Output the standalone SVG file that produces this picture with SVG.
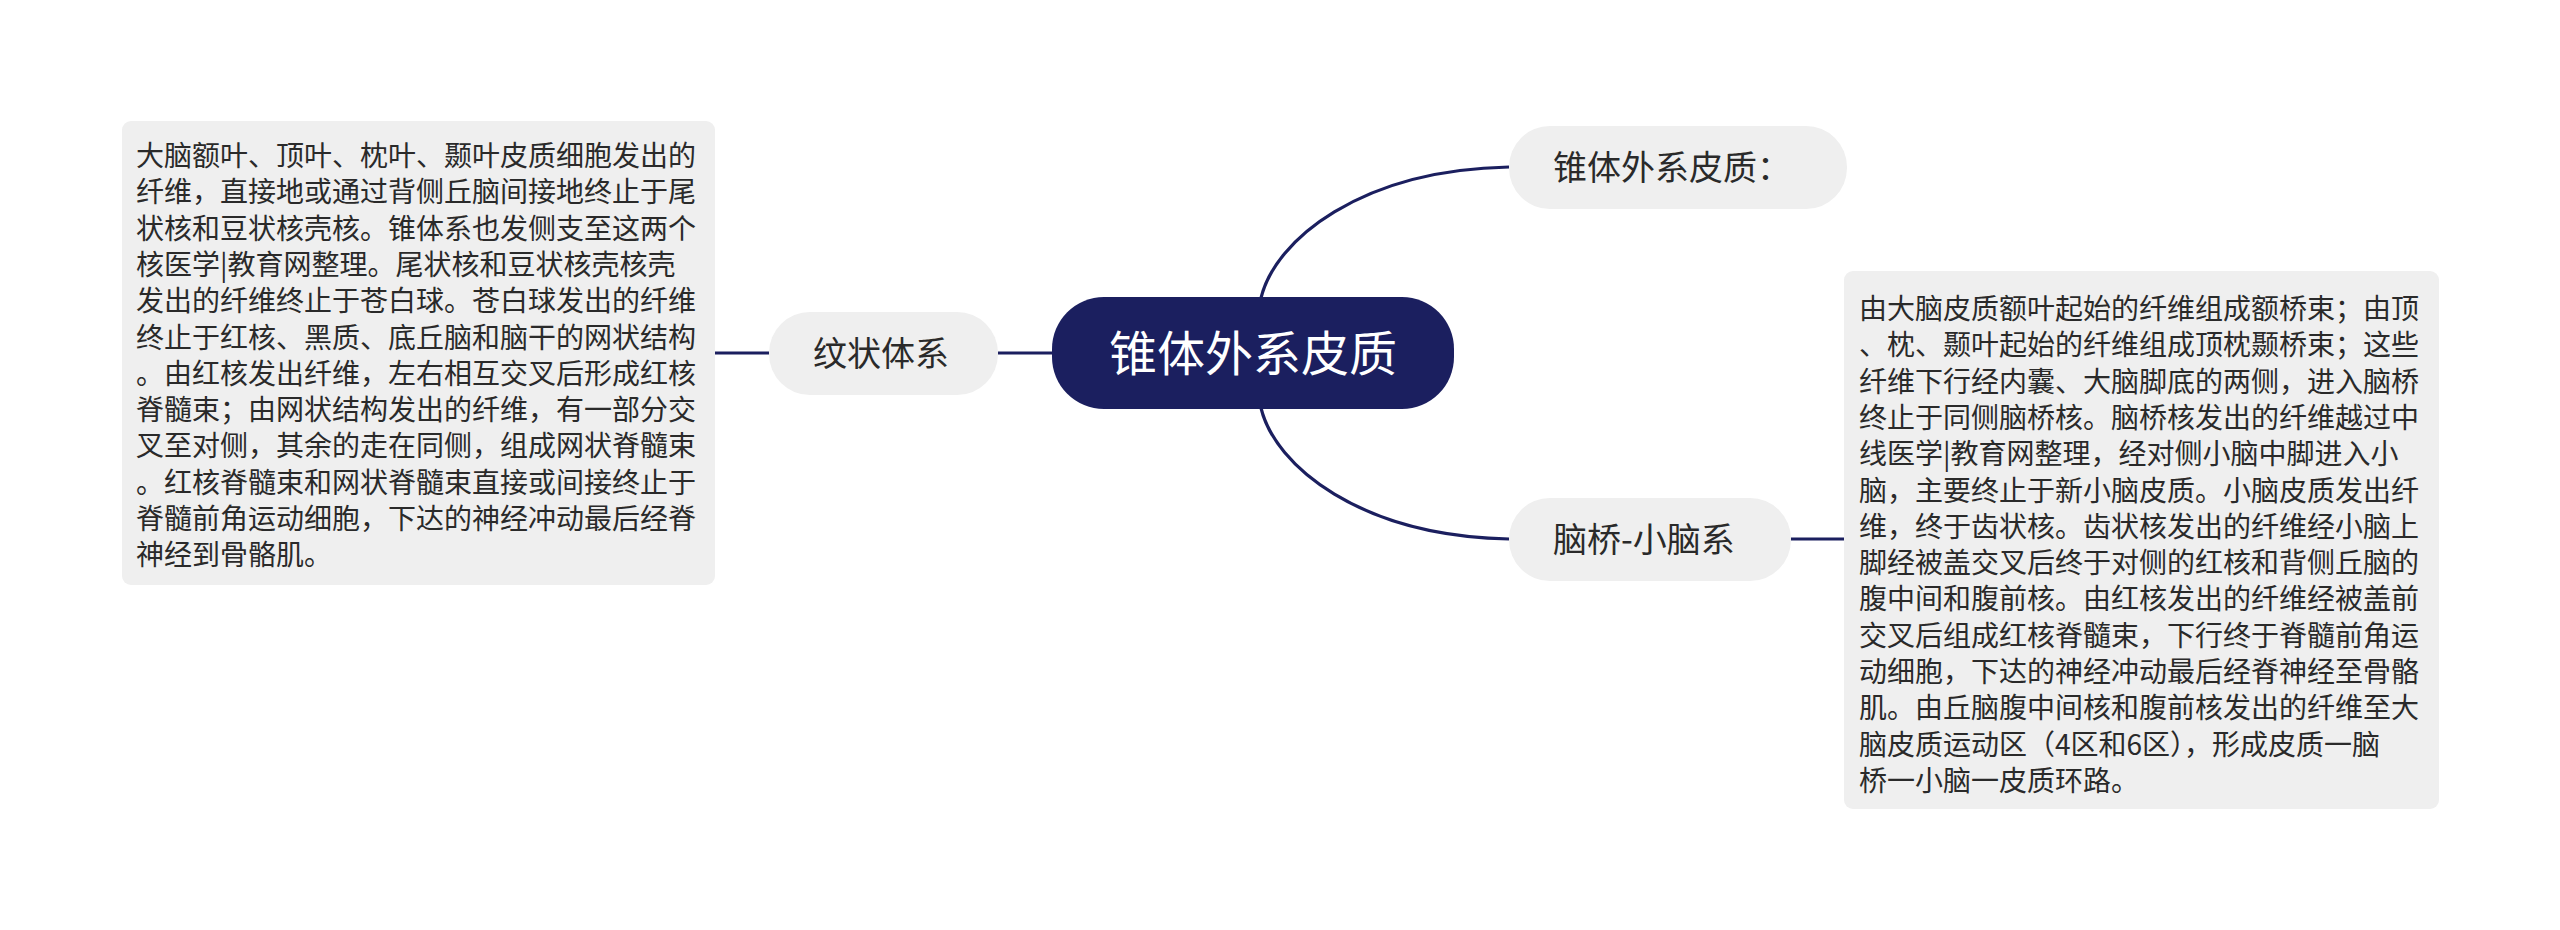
<svg xmlns="http://www.w3.org/2000/svg" width="2560" height="930" viewBox="0 0 2560 930">
<style>
.bg{fill:#ffffff}
.conn{fill:none;stroke:#1b1f5f;stroke-width:3.2;stroke-linecap:butt}
.center{fill:#1b1f5f}
.sub{fill:#efefef}
.box{fill:#efefef}
.ct{font-family:"Noto Sans CJK SC","Noto Sans",sans-serif;font-size:48px;fill:#ffffff}
.st{font-family:"Noto Sans CJK SC","Noto Sans",sans-serif;font-size:34px;fill:#2a2a2a}
.bt{font-family:"Noto Sans CJK SC","Noto Sans",sans-serif;font-size:28px;fill:#2a2a2a}
</style>
<rect class="bg" x="0" y="0" width="2560" height="930"/>
<g id="connectors">
<path class="conn" d="M1261 298 C1275 240 1360 170 1509 167"/>
<path class="conn" d="M1261 408 C1275 466 1360 536 1509 539"/>
<path class="conn" d="M1053 353 L998 353"/>
<path class="conn" d="M769 353 L715 353"/>
<path class="conn" d="M1791 539 L1845 539"/>
</g>
<g id="node-center">
<rect class="center" x="1052" y="297" width="402" height="112" rx="52"/>
<text class="ct" x="1253" y="371" text-anchor="middle">锥体外系皮质</text>
</g>
<g id="node-top">
<rect class="sub" x="1509" y="126" width="338" height="83" rx="41"/>
<text class="st" x="1553" y="180">锥体外系皮质：</text>
</g>
<g id="node-bottom">
<rect class="sub" x="1509" y="498" width="282" height="83" rx="41"/>
<text class="st" x="1553" y="552">脑桥-小脑系</text>
</g>
<g id="node-left">
<rect class="sub" x="769" y="312" width="229" height="83" rx="41"/>
<text class="st" x="813" y="366">纹状体系</text>
</g>
<g id="box-left">
<rect class="box" x="122" y="121" width="593" height="464" rx="9"/>
<text class="bt" x="136">
<tspan x="136" y="166">大脑额叶、顶叶、枕叶、颞叶皮质细胞发出的</tspan>
<tspan x="136" y="202.3">纤维，直接地或通过背侧丘脑间接地终止于尾</tspan>
<tspan x="136" y="238.6">状核和豆状核壳核。锥体系也发侧支至这两个</tspan>
<tspan x="136" y="274.9">核医学|教育网整理。尾状核和豆状核壳核壳</tspan>
<tspan x="136" y="311.2">发出的纤维终止于苍白球。苍白球发出的纤维</tspan>
<tspan x="136" y="347.5">终止于红核、黑质、底丘脑和脑干的网状结构</tspan>
<tspan x="136" y="383.8">。由红核发出纤维，左右相互交叉后形成红核</tspan>
<tspan x="136" y="420.1">脊髓束；由网状结构发出的纤维，有一部分交</tspan>
<tspan x="136" y="456.4">叉至对侧，其余的走在同侧，组成网状脊髓束</tspan>
<tspan x="136" y="492.7">。红核脊髓束和网状脊髓束直接或间接终止于</tspan>
<tspan x="136" y="529">脊髓前角运动细胞，下达的神经冲动最后经脊</tspan>
<tspan x="136" y="565.3">神经到骨骼肌。</tspan>
</text>
</g>
<g id="box-right">
<rect class="box" x="1844" y="271" width="595" height="538" rx="9"/>
<text class="bt" x="1859">
<tspan x="1859" y="319">由大脑皮质额叶起始的纤维组成额桥束；由顶</tspan>
<tspan x="1859" y="355.3">、枕、颞叶起始的纤维组成顶枕颞桥束；这些</tspan>
<tspan x="1859" y="391.6">纤维下行经内囊、大脑脚底的两侧，进入脑桥</tspan>
<tspan x="1859" y="427.9">终止于同侧脑桥核。脑桥核发出的纤维越过中</tspan>
<tspan x="1859" y="464.2">线医学|教育网整理，经对侧小脑中脚进入小</tspan>
<tspan x="1859" y="500.5">脑，主要终止于新小脑皮质。小脑皮质发出纤</tspan>
<tspan x="1859" y="536.8">维，终于齿状核。齿状核发出的纤维经小脑上</tspan>
<tspan x="1859" y="573.1">脚经被盖交叉后终于对侧的红核和背侧丘脑的</tspan>
<tspan x="1859" y="609.4">腹中间和腹前核。由红核发出的纤维经被盖前</tspan>
<tspan x="1859" y="645.7">交叉后组成红核脊髓束，下行终于脊髓前角运</tspan>
<tspan x="1859" y="682">动细胞，下达的神经冲动最后经脊神经至骨骼</tspan>
<tspan x="1859" y="718.3">肌。由丘脑腹中间核和腹前核发出的纤维至大</tspan>
<tspan x="1859" y="754.6">脑皮质运动区（4区和6区），形成皮质一脑</tspan>
<tspan x="1859" y="790.9">桥一小脑一皮质环路。</tspan>
</text>
</g>
</svg>
